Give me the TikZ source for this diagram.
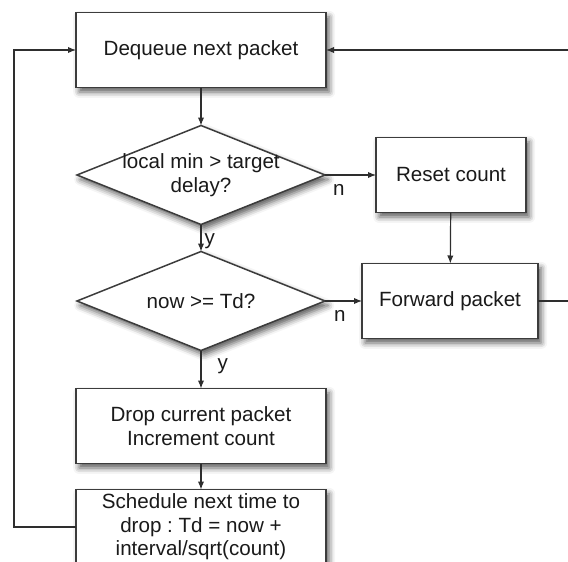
\documentclass[tikz,border=0pt]{standalone}
\usepackage{fontspec}
\setmainfont{Liberation Sans}
\usetikzlibrary{arrows.meta,positioning,shapes.geometric,shadows.blur}
\frenchspacing
\definecolor{Ink}{HTML}{1A1A1A}
\definecolor{Edge}{HTML}{3C3C3C}
\definecolor{Wire}{HTML}{2E2E2E}
\tikzset{
  softshadow/.style={blur shadow={shadow xshift=1.6pt,shadow yshift=-2.2pt,shadow blur radius=3pt,shadow opacity=65}},
  stepbox/.style={draw=Edge,line width=0.75pt,fill=white,minimum height=37.5pt,align=center,text=Ink,inner sep=2pt,outer sep=0pt,softshadow},
  decision/.style={diamond,draw=Edge,line width=0.75pt,fill=white,minimum width=124pt,minimum height=49.5pt,inner sep=0pt,outer sep=0pt,softshadow},
  arrow/.style={-{Latex[length=4pt,width=3.2pt]},line width=0.6pt,draw=Wire},
  tag/.style={text=Ink,inner sep=0pt}
}
\begin{document}
\begin{tikzpicture}[font=\fontsize{10.3}{11.7}\selectfont]
\useasboundingbox (0,0) rectangle (284pt,-281pt);
\clip (0,0) rectangle (284pt,-281pt);
\node[stepbox,minimum width=125pt] (deq) at (100.5pt,-25pt) {Dequeue next packet};
\node[decision,below=19pt of deq,label={[align=center,text=Ink]center:local min > target\\delay?}] (lmin) {};
\node[decision,below=13.5pt of lmin,label={[text=Ink]center:now >= Td?}] (tdue) {};
\node[stepbox,minimum width=125pt,below=19pt of tdue] (drop) {Drop current packet\\Increment count};
\node[stepbox,minimum width=125pt,below=13pt of drop] (sched) {Schedule next time to\\drop : Td = now +\\interval/sqrt(count)};
\node[stepbox,minimum width=75pt,right=25.5pt of lmin] (reset) {Reset count};
\node[stepbox,minimum width=88pt,right=18.5pt of tdue] (fwd) {Forward packet};
\draw[arrow] (deq) -- (lmin);
\draw[arrow] (lmin) -- node[tag,pos=0.6,right=1.5pt] {y} (tdue);
\draw[arrow] (tdue) -- node[tag,pos=0.4,right=8pt] {y} (drop);
\draw[arrow] (drop) -- (sched);
\draw[arrow] (lmin.east) -- node[tag,pos=0.27,below=4.5pt] {n} (reset.west);
\draw[arrow] (tdue.east) -- node[tag,pos=0.4,below=4.5pt] {n} (fwd.west);
\draw[arrow] (reset) -- (fwd);
\draw[arrow] (sched.west) -- ++(-31pt,0) |- (deq.west);
\draw[arrow] (fwd.east) -- ++(20pt,0) |- (deq.east);
\end{tikzpicture}
\end{document}
